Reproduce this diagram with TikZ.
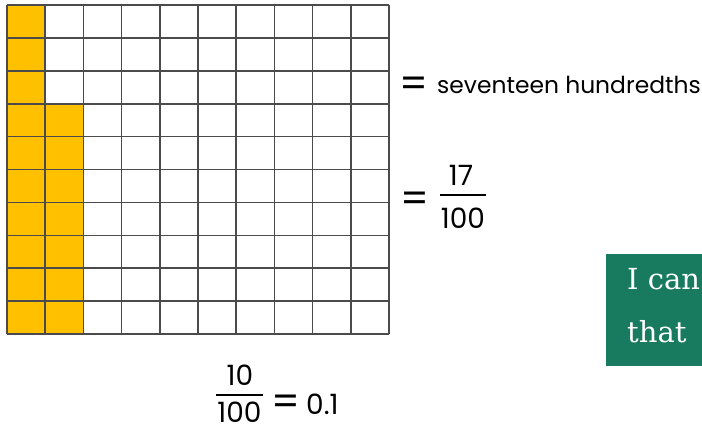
\documentclass[tikz,border=0pt]{standalone}
\usepackage{fontspec}
\setmainfont{Poppins}
\newfontfamily\boxfont{DejaVu Serif}
\definecolor{gold}{RGB}{255,192,0}
\definecolor{icangreen}{RGB}{24,122,94}
\definecolor{gridgray}{RGB}{75,75,75}
\tikzset{
  gridline/.style={draw=gridgray, line width=1.6pt},
  label/.style={inner sep=0pt, font=\fontsize{23.4}{27}\selectfont},
  num/.style={inner sep=0pt, anchor=base, font=\fontsize{28}{32}\selectfont},
  eqsign/.style={inner sep=0pt, font=\fontsize{40}{44}\selectfont},
  fracbar/.style={line width=1.8pt},
  boxtext/.style={inner sep=0pt, anchor=base west, text=white, font=\boxfont\fontsize{29}{34}\selectfont}
}
\begin{document}
\begin{tikzpicture}[x=1pt,y=-1pt]
\useasboundingbox (0,0) rectangle (702,431);
\begin{scope}
\clip (0,0) rectangle (702,431);
% shaded cells
\fill[gold] (7,5) rectangle (45.2,334);
\fill[gold] (45.2,103.7) rectangle (83.4,334);
% grid
\foreach \i in {0,...,10} \draw[gridline] (7+38.2*\i,5) -- (7+38.2*\i,334);
\foreach \j in {0,...,10} \draw[gridline] (7,5+32.9*\j) -- (389,5+32.9*\j);
% words
\node[eqsign] (eqw) at (414,87) {=};
\node[label, anchor=base west] (words) at (437,93) {seventeen hundredths};
% 17/100
\node[eqsign] (eqa) at (415,202) {=};
\coordinate (barAl) at (440,195);
\coordinate (barAr) at (486,195);
\draw[fracbar] (barAl) -- (barAr);
\node[num] (numA) at (461,185) {17};
\node[num] (denA) at (463,228) {100};
% 10/100 = 0.1
\coordinate (barBl) at (216,395);
\coordinate (barBr) at (263,395);
\draw[fracbar] (barBl) -- (barBr);
\node[num] (numB) at (240,385) {10};
\node[num] (denB) at (239.5,422) {100};
\node[eqsign] (eqb) at (286,405) {=};
\node[num, anchor=base west] (dec) at (306,414) {0.1};
% green box
\fill[icangreen] (606,254) rectangle (720,366);
\node[boxtext] (ican) at (627,289) {I can};
\node[boxtext] (that) at (627,342) {that};
\end{scope}
\end{tikzpicture}
\end{document}
